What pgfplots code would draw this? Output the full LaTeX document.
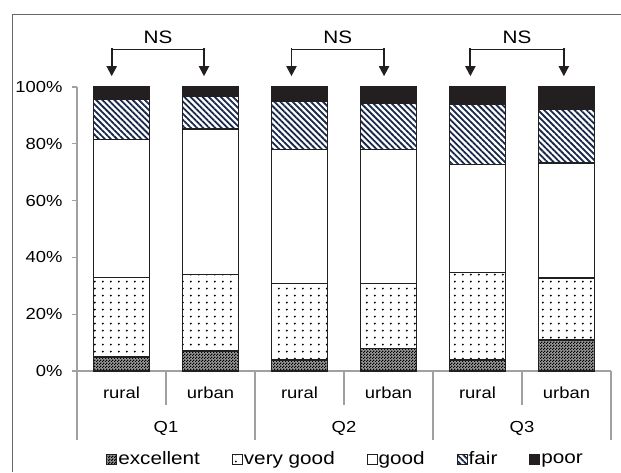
\documentclass[border=0pt]{standalone}
\usepackage{fontspec}
\setmainfont{Liberation Sans}[FakeStretch=1.15]
\usepackage{pgfplots}
\usepackage{pgfplotstable}
\pgfplotsset{compat=1.18}
\usetikzlibrary{patterns,patterns.meta,arrows.meta}

\definecolor{barline}{HTML}{231F20}
\definecolor{axisgray}{HTML}{A0A0A0}
\definecolor{stripe}{HTML}{18284A}

% fine dark checker for "excellent"
\pgfdeclarepatternformonly{finecheck}{\pgfqpoint{0pt}{0pt}}{\pgfqpoint{3pt}{3pt}}{\pgfqpoint{3pt}{3pt}}{%
  \pgfpathrectangle{\pgfqpoint{0pt}{0pt}}{\pgfqpoint{1.6pt}{1.6pt}}%
  \pgfpathrectangle{\pgfqpoint{1.5pt}{1.5pt}}{\pgfqpoint{1.5pt}{1.5pt}}%
  \pgfusepath{fill}}
% sparse dot grid for "very good"
\pgfdeclarepatternformonly{sparsedots}{\pgfqpoint{0pt}{0pt}}{\pgfqpoint{8.3pt}{7.4pt}}{\pgfqpoint{8.3pt}{7.4pt}}{%
  \pgfpathcircle{\pgfqpoint{4.15pt}{3.7pt}}{1.1pt}%
  \pgfusepath{fill}}

% shares (%) per answer category; x: Q1 rural, Q1 urban, Q2 rural, ...
\pgfplotstableread{
x exc  vg   good fair poor
0 5.0  28.0 48.5 14.1 4.4
1 7.0  26.9 51.3 11.5 3.3
2 3.9  26.9 47.2 17.0 5.0
3 8.0  22.8 47.2 16.2 5.8
4 3.9  30.8 38.0 21.2 6.1
5 10.9 21.9 40.5 18.9 7.8
}\datatable

\tikzset{
  catlab/.style={font=\fontsize{16}{18}\selectfont},
  sep/.style={axisgray, line width=1.3pt},
  nsline/.style={barline, line width=1.2pt},
  nsarrow/.style={barline, line width=1.9pt, -{Triangle[width=10pt,length=10pt]}},
}

\begin{document}
\begin{tikzpicture}
\begin{axis}[
  at={(77pt,101pt)}, anchor=south west,
  scale only axis, width=534pt, height=284pt,
  xmin=-0.5, xmax=5.5, ymin=0, ymax=100,
  ybar stacked, bar width=0.63,
  axis x line*=bottom, axis y line*=left,
  axis line style={axisgray, line width=1.3pt, -},
  xtick=\empty,
  ytick={0,20,...,100},
  tick align=outside, major tick length=5pt,
  y tick style={axisgray, line width=1.3pt},
  /pgf/number format/assume math mode=true,
  yticklabel={\pgfmathprintnumber{\tick}\%},
  yticklabel style={font=\fontsize{16}{18}\selectfont, xshift=-6pt},
  clip=false,
  legend columns=5,
  legend style={at={(0.502,-0.31)}, anchor=center, draw=none, fill=none,
    font=\fontsize{18}{20}\selectfont,
    /tikz/every even column/.append style={column sep=31pt},
    nodes={inner sep=1pt}},
  seg/.style={draw=barline, line width=1.5pt,
    legend image code/.code={\draw[##1, line width=0.9pt] (0pt,-5pt) rectangle (10pt,5pt);}},
]
\addplot[seg, fill=black!40, postaction={pattern=finecheck, pattern color=black}] table[x=x, y=exc] {\datatable};
\addplot[seg, pattern=sparsedots, pattern color=black] table[x=x, y=vg] {\datatable};
\addplot[seg, fill=white] table[x=x, y=good] {\datatable};
\addplot[seg, pattern={Lines[angle=-45, distance=4.3pt, line width=1.8pt]}, pattern color=stripe] table[x=x, y=fair] {\datatable};
\addplot[seg, fill=barline] table[x=x, y=poor] {\datatable};
\legend{excellent, very good, good, fair, poor}

% category separators below the axis
\draw[sep] (axis cs:0.5,0) -- ([yshift=-34pt]axis cs:0.5,0);
\draw[sep] (axis cs:2.5,0) -- ([yshift=-34pt]axis cs:2.5,0);
\draw[sep] (axis cs:4.5,0) -- ([yshift=-34pt]axis cs:4.5,0);
\draw[sep] (axis cs:-0.5,0) -- ([yshift=-69pt]axis cs:-0.5,0);
\draw[sep] (axis cs:1.5,0) -- ([yshift=-69pt]axis cs:1.5,0);
\draw[sep] (axis cs:3.5,0) -- ([yshift=-69pt]axis cs:3.5,0);
\draw[sep] (axis cs:5.5,0) -- ([yshift=-69pt]axis cs:5.5,0);

% two-level category labels
\node[catlab] at ([yshift=-22pt]axis cs:0,0) {rural};
\node[catlab] at ([yshift=-22pt]axis cs:1,0) {urban};
\node[catlab] at ([yshift=-22pt]axis cs:2,0) {rural};
\node[catlab] at ([yshift=-22pt]axis cs:3,0) {urban};
\node[catlab] at ([yshift=-22pt]axis cs:4,0) {rural};
\node[catlab] at ([yshift=-22pt]axis cs:5,0) {urban};
\node[catlab] at ([yshift=-57pt]axis cs:0.5,0) {Q1};
\node[catlab] at ([yshift=-57pt]axis cs:2.5,0) {Q2};
\node[catlab] at ([yshift=-57pt]axis cs:4.5,0) {Q3};

% significance brackets
\draw[nsline] (axis cs:-0.11,113.3) -- (axis cs:0.927,113.3);
\draw[nsarrow] (axis cs:-0.11,113.7) -- (axis cs:-0.11,103.8);
\draw[nsarrow] (axis cs:0.927,113.7) -- (axis cs:0.927,103.8);
\node[font=\fontsize{18}{20}\selectfont] at (axis cs:0.41,117.6) {NS};

\draw[nsline] (axis cs:1.91,113.3) -- (axis cs:2.95,113.3);
\draw[nsarrow] (axis cs:1.91,113.7) -- (axis cs:1.91,103.8);
\draw[nsarrow] (axis cs:2.95,113.7) -- (axis cs:2.95,103.8);
\node[font=\fontsize{18}{20}\selectfont] at (axis cs:2.43,117.6) {NS};

\draw[nsline] (axis cs:3.92,113.3) -- (axis cs:4.97,113.3);
\draw[nsarrow] (axis cs:3.92,113.7) -- (axis cs:3.92,103.8);
\draw[nsarrow] (axis cs:4.97,113.7) -- (axis cs:4.97,103.8);
\node[font=\fontsize{18}{20}\selectfont] at (axis cs:4.445,117.6) {NS};
\end{axis}
% frame
\draw[line width=1pt, black!60] (12pt,0pt) -- (12pt,457pt) -- (621pt,457pt);
\pgfresetboundingbox
\useasboundingbox (0pt,0pt) rectangle (621pt,472pt);
\end{tikzpicture}
\end{document}
